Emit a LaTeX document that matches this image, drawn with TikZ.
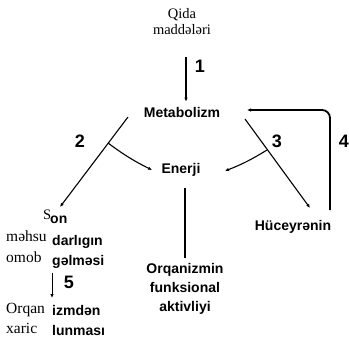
\documentclass[tikz,border=0pt]{standalone}
\usepackage{fontspec}
\setmainfont{Liberation Serif}
\setsansfont{Liberation Sans}
\usetikzlibrary{arrows.meta}

\begin{document}
\begin{tikzpicture}[
  x=1pt,y=-1pt,
  >=Latex,
  serif/.style={font=\fontsize{14.5}{16}\selectfont\rmfamily,inner sep=0pt},
  sans/.style={font=\fontsize{14}{19}\selectfont\sffamily\bfseries,inner sep=0pt},
  num/.style={font=\fontsize{18}{18}\selectfont\sffamily\bfseries,inner sep=0pt},
  arr/.style={-{Latex[length=4pt,width=3.5pt]},line width=1.1pt,black}
]
  \useasboundingbox (0,0) rectangle (349,341);

  % Qida -> metabolizm
  \node[serif,align=center] (qida) at (182,22) {Qida\\maddələri};
  \node[sans] (metab) at (182,112) {Metabolizm};
  \coordinate (q1) at (186,57);
  \draw[arr,line width=1.8pt,shorten >=5pt] (q1) -- (q1 |- metab.north);
  \node[num] (n1) at (200,66) {1};

  % Enerji ortada
  \node[sans] (enerji) at (181,170) {Enerji};
  \node[sans,align=center] (funk) at (185,289)
    {Orqanizmin\\funksional\\aktivliyi};
  \coordinate (e0) at (185,188);
  \draw[line width=1.5pt,shorten >=5pt] (e0) -- (e0 |- funk.north);

  % Sol qol: son mehsullar
  \coordinate (m2) at (128,117);
  \coordinate (e2) at (60,207);
  \coordinate (j2) at (108,143);
  \draw[arr] (m2) -- (e2);
  \draw[arr] (j2) to[bend right=5] (152,170);
  \node[num] (n2) at (80,141) {2};

  % Sag qol: huceyrenin
  \coordinate (m3) at (245,119);
  \coordinate (e3) at (310,208);
  \coordinate (j3) at (267,150);
  \draw[arr] (m3) -- (e3);
  \draw[arr] (j3) to[bend left=5] (225,171);
  \node[num] (n3) at (277,141) {3};
  \node[sans] (hucey) at (293,227) {Hüceyrənin};

  % Geri dongu 4
  \coordinate (c4) at (330,210);
  \coordinate (t4) at (247,110);
  \draw[arr,rounded corners=8pt,line width=1.8pt] (c4) |- (t4);
  \node[num] (n4) at (344,141) {4};

  % Son mehsullarin emele gelmesi (sol blok)
  \node[serif,anchor=west] (s) at (43,215) {S};
  \node[sans,anchor=west] (on) at (50,220) {on};
  \node[serif,anchor=west,font=\fontsize{15.5}{16}\selectfont\rmfamily] (mehsu) at (6,236) {məhsu};
  \node[sans,anchor=west] (darl) at (52,242) {darlıgın};
  \node[serif,anchor=west,font=\fontsize{15.5}{16}\selectfont\rmfamily] (omob) at (6,257) {omob};
  \node[sans,anchor=west] (gelm) at (52,262) {gəlməsi};
  \coordinate (a5) at (52,273);
  \coordinate (b5) at (52,298);
  \draw[arr,line width=0.8pt] (a5) -- (b5);
  \node[num] (n5) at (69,282) {5};
  \node[serif,anchor=west,font=\fontsize{15.5}{16}\selectfont\rmfamily] (orqn) at (6,310) {Orqan};
  \node[sans,anchor=west] (izmd) at (52,310) {izmdən};
  \node[serif,anchor=west,font=\fontsize{15.5}{16}\selectfont\rmfamily] (xar) at (6,328) {xaric};
  \node[sans,anchor=west] (lunm) at (52,330) {lunması};
\end{tikzpicture}
\end{document}
